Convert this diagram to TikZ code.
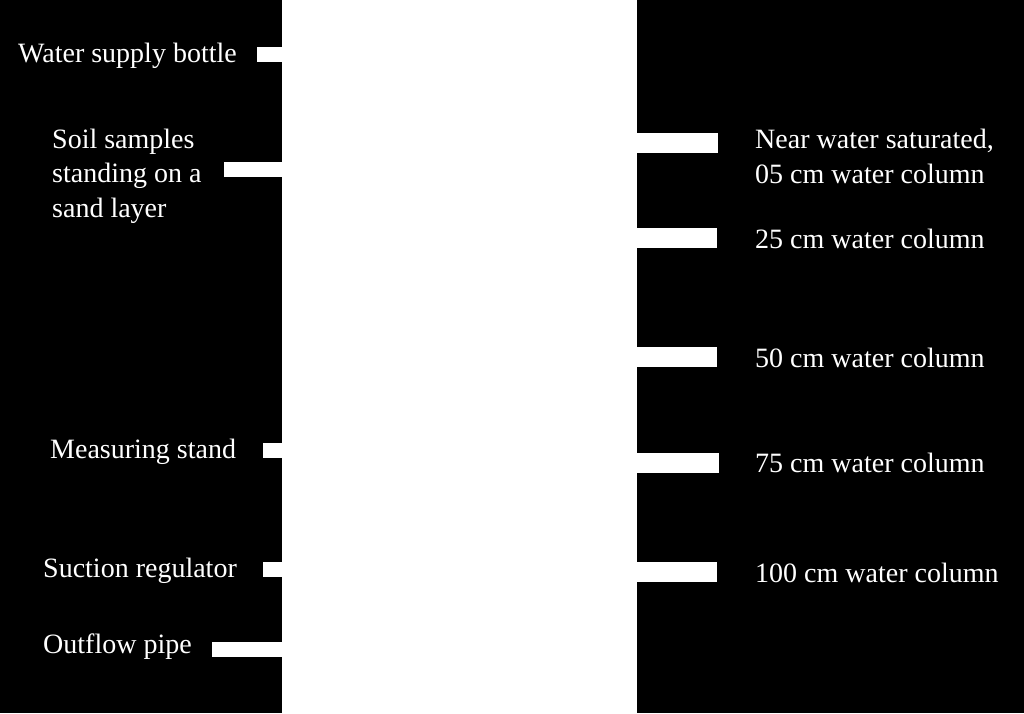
\documentclass[tikz,border=0pt]{standalone}
\usepackage{fontspec}
\setmainfont{Liberation Serif}
\begin{document}
\begin{tikzpicture}[x=1pt,y=-1pt,
  lbl/.style={text=white,font=\fontsize{28}{34.5}\selectfont,inner sep=0pt,anchor=base west},
  lblm/.style={lbl,align=left},
  barl/.style={draw=white,line width=15pt},
  barr/.style={draw=white,line width=20pt}]
\fill[black] (0,0) rectangle (1024,713);
\useasboundingbox (0,0) rectangle (1024,713);
\node[fill=white,draw=none,minimum width=355pt,minimum height=713pt,inner sep=0pt,anchor=north west] (photo) at (282,0) {};
% left labels
\node[lbl] (wsb) at (18,62) {Water supply bottle};
\node[lblm] (soil) at (52,217) {Soil samples\\standing on a\\sand layer};
\node[lbl] (ms) at (50,458) {Measuring stand};
\node[lbl] (sr) at (43,577) {Suction regulator};
\node[lbl] (op) at (43,653) {Outflow pipe};
% right labels
\node[lblm] (c05) at (755,183) {Near water saturated,\\05 cm water column};
\node[lbl] (c25) at (755,248) {25 cm water column};
\node[lbl] (c50) at (755,367) {50 cm water column};
\node[lbl] (c75) at (755,472) {75 cm water column};
\node[lbl] (c100) at (755,582) {100 cm water column};
% bar starts
\coordinate (bw) at (257,54.5);
\coordinate (bs) at (224,169);
\coordinate (bm) at (263,450);
\coordinate (bsr) at (263,569.5);
\coordinate (bo) at (212,649.5);
\coordinate (r05) at (718,142.5);
\coordinate (r25) at (717,238);
\coordinate (r50) at (717,357);
\coordinate (r75) at (719,463);
\coordinate (r100) at (717,572);
\draw[barl] (bw) -- (bw -| photo.west);
\draw[barl] (bs) -- (bs -| photo.west);
\draw[barl] (bm) -- (bm -| photo.west);
\draw[barl] (bsr) -- (bsr -| photo.west);
\draw[barl] (bo) -- (bo -| photo.west);
\draw[barr] (photo.east |- r05) -- (r05);
\draw[barr] (photo.east |- r25) -- (r25);
\draw[barr] (photo.east |- r50) -- (r50);
\draw[barr] (photo.east |- r75) -- (r75);
\draw[barr] (photo.east |- r100) -- (r100);
\end{tikzpicture}
\end{document}
